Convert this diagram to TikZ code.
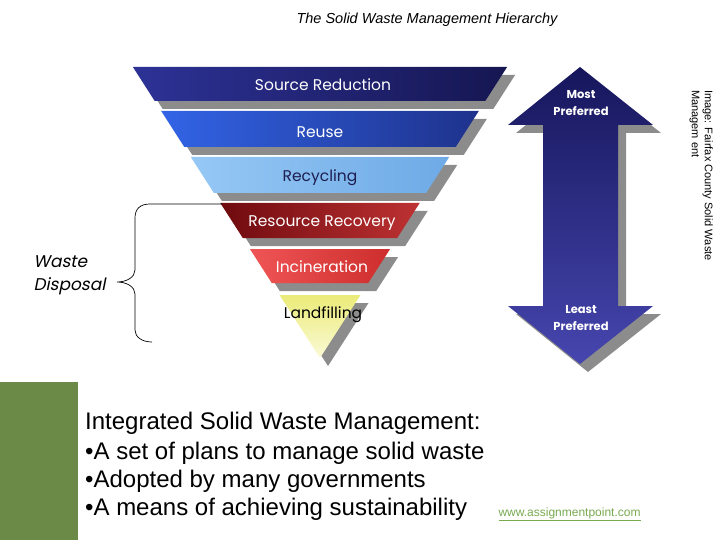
\documentclass[tikz,border=0pt]{standalone}
\usepackage{fontspec}
\setmainfont{Liberation Sans}
\newfontfamily\gothic{Poppins}
\newfontfamily\gothicit[FakeSlant=0.2]{Poppins}
\definecolor{srleft}{RGB}{45,50,150}
\definecolor{srright}{RGB}{22,22,82}
\definecolor{reuseleft}{RGB}{50,100,230}
\definecolor{reuseright}{RGB}{30,50,140}
\definecolor{recleft}{RGB}{150,200,245}
\definecolor{recright}{RGB}{110,170,230}
\definecolor{rrleft}{RGB}{110,10,15}
\definecolor{rrright}{RGB}{190,50,50}
\definecolor{incleft}{RGB}{240,85,85}
\definecolor{incright}{RGB}{205,45,45}
\definecolor{landtop}{RGB}{235,235,120}
\definecolor{landbottom}{RGB}{250,250,215}
\definecolor{arrowtop}{RGB}{22,22,92}
\definecolor{arrowbottom}{RGB}{70,70,175}
\definecolor{shadowgray}{RGB}{140,140,140}
\definecolor{textnavy}{RGB}{30,30,80}
\definecolor{barolive}{RGB}{107,138,72}
\definecolor{linkgreen}{RGB}{120,170,80}
\tikzset{
  shadow/.style={fill=shadowgray, shift={(8,8)}},
  bandlabel/.style={font=\gothic\fontsize{15.5}{18}\selectfont},
  arrowlabel/.style={font=\gothic\bfseries\fontsize{11.5}{17}\selectfont, text=white, align=center},
  textline/.style={anchor=base west, inner sep=0pt, font=\fontsize{24}{29}\selectfont}
}
\begin{document}
\begin{tikzpicture}[x=1pt,y=-1pt]
\useasboundingbox (0,0) rectangle (720,540);
% title
\node (title) at (427,20) {\itshape\fontsize{14.5}{17}\selectfont The Solid Waste Management Hierarchy};
% shadows of the bands
\fill[shadow] (132.9,67) -- (507.1,67) -- (485.3,101) -- (154.7,101) -- cycle;
\fill[shadow] (161.2,111) -- (478.8,111) -- (455.7,147) -- (184.3,147) -- cycle;
\fill[shadow] (190.8,157) -- (449.2,157) -- (426.1,193) -- (213.9,193) -- cycle;
\fill[shadow] (220.3,203) -- (419.7,203) -- (397.2,238) -- (242.8,238) -- cycle;
\fill[shadow] (249.9,249) -- (390.1,249) -- (368.2,283) -- (271.8,283) -- cycle;
\fill[shadow] (279.5,295) -- (360.5,295) -- (320,358) -- cycle;
% bands
\shade[left color=srleft, right color=srright] (132.9,67) -- (507.1,67) -- (485.3,101) -- (154.7,101) -- cycle;
\shade[left color=reuseleft, right color=reuseright] (161.2,111) -- (478.8,111) -- (455.7,147) -- (184.3,147) -- cycle;
\shade[left color=recleft, right color=recright] (190.8,157) -- (449.2,157) -- (426.1,193) -- (213.9,193) -- cycle;
\shade[left color=rrleft, right color=rrright] (220.3,203) -- (419.7,203) -- (397.2,238) -- (242.8,238) -- cycle;
\shade[left color=incleft, right color=incright] (249.9,249) -- (390.1,249) -- (368.2,283) -- (271.8,283) -- cycle;
\shade[top color=landtop, bottom color=landbottom] (279.5,295) -- (360.5,295) -- (320,358) -- cycle;
% band labels
\node[bandlabel, text=white] (reduction) at (323,85) {Source Reduction};
\node[bandlabel, text=white] (reuse) at (320,132) {Reuse};
\node[bandlabel, text=textnavy] (recycling) at (320,178) {Recycling};
\node[bandlabel, text=white] (recovery) at (322,223) {Resource Recovery};
\node[bandlabel, text=white] (incineration) at (322,267) {Incineration};
\node[bandlabel, text=black] (landfilling) at (323,315) {Landfilling};
% brace and its label
\draw[line width=0.7pt] (222,204) -- (150,204) .. controls (140,204) and (135,209) .. (135,218)
  -- (135,270) .. controls (135,277) and (127,282) .. (117,282)
  .. controls (127,282) and (135,287) .. (135,294)
  -- (135,330) .. controls (135,337) and (142,342) .. (152,342);
\node[anchor=west, align=left, font=\gothicit\fontsize{17}{23}\selectfont] (disposal) at (30,275) {Waste\\Disposal};
% double arrow with shadow
\fill[shadow] (580,67) -- (653,125) -- (618,125) -- (618,306) -- (653,306) -- (580,364)
  -- (508,306) -- (543,306) -- (543,125) -- (508,125) -- cycle;
\shade[top color=arrowtop, bottom color=arrowbottom] (580,67) -- (653,125) -- (618,125) -- (618,306)
  -- (653,306) -- (580,364) -- (508,306) -- (543,306) -- (543,125) -- (508,125) -- cycle;
\node[arrowlabel] (most) at (581,103) {Most\\Preferred};
\node[arrowlabel] (least) at (581,318) {Least\\Preferred};
% credit, turned
\node[rotate=-90, anchor=north west, align=left, inner sep=0pt,
  font=\fontsize{11}{13}\selectfont] (credit) at (713,90) {Image: Fairfax County Solid Waste\\Managem ent};
% green bar and text block
\fill[barolive] (0,382) rectangle (78,540);
\node[textline] (isw) at (85,429) {Integrated Solid Waste Management:};
\node[textline] (plans) at (85,459) {•A set of plans to manage solid waste};
\node[textline] (adopted) at (85,487) {•Adopted by many governments};
\node[textline] (means) at (85,515) {•A means of achieving sustainability};
\node[anchor=west, text=linkgreen, font=\fontsize{12}{14}\selectfont] (link) at (495,514) {\underline{www.assignmentpoint.com}};
\end{tikzpicture}
\end{document}
